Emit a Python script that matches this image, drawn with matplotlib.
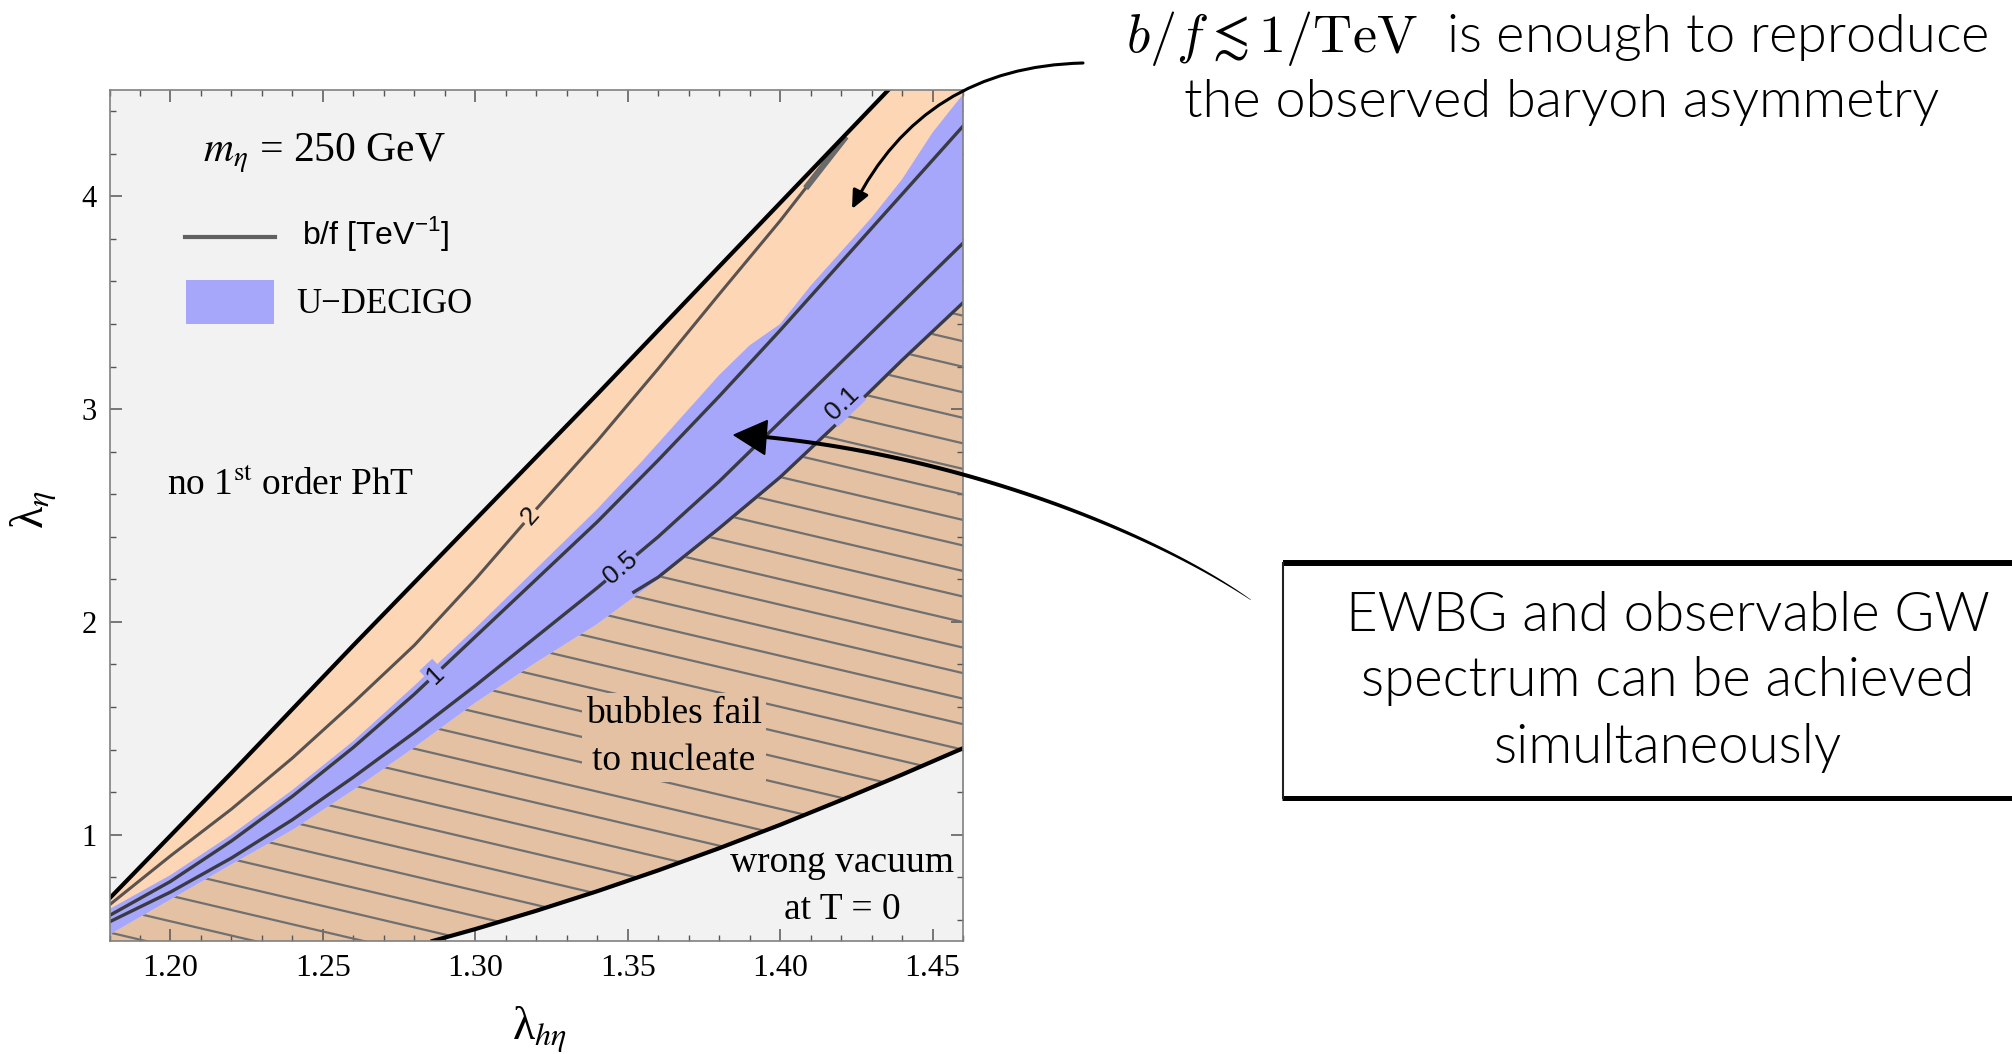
import numpy as np
import matplotlib
matplotlib.use("Agg")
import matplotlib.pyplot as plt
from matplotlib.patches import Polygon, Rectangle, FancyArrowPatch
from matplotlib.lines import Line2D
from matplotlib.collections import LineCollection
from matplotlib.ticker import MultipleLocator, FormatStrFormatter

W, H = 2012, 1054

# ---------------- data ----------------
xlim = (1.18, 1.46)
ylim = (0.5, 4.5)

# boundary of "no 1st order PhT"
phase_x = [1.18, 1.22, 1.26, 1.30, 1.34, 1.38, 1.4355]
phase_y = [0.70, 1.29, 1.89, 2.48, 3.07, 3.67, 4.50]

# boundary of "wrong vacuum at T=0"
vac_x = [1.286, 1.30, 1.32, 1.34, 1.36, 1.38, 1.40, 1.42, 1.44, 1.46]
vac_y = [0.50, 0.556, 0.642, 0.734, 0.832, 0.936, 1.046, 1.162, 1.282, 1.406]

# common x grid for the band curves
grid_x = [1.18, 1.20, 1.22, 1.24, 1.26, 1.28, 1.30, 1.32, 1.34, 1.36, 1.38, 1.40, 1.42, 1.44, 1.46]
# upper edge of "bubbles fail to nucleate" region (= lower edge of U-DECIGO band)
nucl_y = [0.53, 0.695, 0.86, 1.022, 1.21, 1.41, 1.62, 1.81, 1.99, 2.20, 2.43, 2.67, 2.94, 3.22, 3.49]
# b/f contours
bf1_y = [0.62, 0.78, 0.97, 1.18, 1.41, 1.66, 1.93, 2.20, 2.47, 2.76, 3.06, 3.37, 3.69, 4.01, 4.33]
bf05_y = [0.59, 0.73, 0.89, 1.07, 1.27, 1.48, 1.70, 1.93, 2.16, 2.40, 2.66, 2.94, 3.22, 3.50, 3.78]

bf2_x = [1.18, 1.20, 1.22, 1.24, 1.26, 1.28, 1.30, 1.32, 1.34, 1.36, 1.38, 1.40, 1.421]
bf2_y = [0.67, 0.90, 1.12, 1.36, 1.62, 1.89, 2.20, 2.53, 2.85, 3.19, 3.54, 3.885, 4.27]
bf2_thick_x = [1.409, 1.421]

bf01_x = [1.352, 1.36, 1.38, 1.40, 1.42, 1.44, 1.46]
bf01_y = [2.14, 2.21, 2.44, 2.68, 2.95, 3.23, 3.50]

# upper edge of U-DECIGO band
decigo_x = [1.18, 1.20, 1.22, 1.24, 1.26, 1.28, 1.30, 1.32, 1.34, 1.355, 1.37, 1.38,
            1.39, 1.40, 1.41, 1.42, 1.43, 1.44, 1.45, 1.46]
decigo_top = [0.65, 0.81, 1.00, 1.21, 1.44, 1.70, 1.97, 2.25, 2.53, 2.76, 3.00, 3.16,
              3.30, 3.40, 3.58, 3.74, 3.90, 4.08, 4.30, 4.48]

contour_labels = ["2", "1", "0.5", "0.1"]
contour_label_x = [1.318, 1.2868, 1.3478, 1.4205]
contour_label_dy = [0.0, 0.0, 0.0, 0.07]

xticks_major = 0.05
yticks_major = 1

# ---------------- style ----------------
BG = "#f2f2f2"
PEACH = "#fdd6b6"
TAN = "#e4c1a2"
BLUE = "#a6a6fb"
CONT = "#3a3a44"
HATCH = "#707070"
SERIF = "Liberation Serif"
SANS = "Liberation Sans"

plt.rcParams["font.family"] = [SERIF, "DejaVu Sans"]


def F(x, y):
    """reference-pixel -> figure fraction"""
    return (x / W, 1 - y / H)


fig = plt.figure(figsize=(W / 100, H / 100), dpi=100)
fig.patch.set_facecolor("white")
ax = fig.add_axes([109.5 / W, 1 - 941 / H, (963 - 109.5) / W, (941 - 90) / H])
ax.set_xlim(*xlim)
ax.set_ylim(*ylim)
ax.set_facecolor(BG)

gx = np.array(grid_x)
ny = np.array(nucl_y)

# peach region (first-order PhT, bubbles nucleate)
peach_v = list(zip(phase_x, phase_y)) + [(xlim[1], ylim[1])] + list(zip(gx[::-1], ny[::-1]))
ax.add_patch(Polygon(peach_v, closed=True, fc=PEACH, ec="none", zorder=1))

# hatched region (bubbles fail to nucleate)
hatch_v = list(zip(gx, ny)) + list(zip(vac_x[::-1], vac_y[::-1])) + [(xlim[0], ylim[0])]
hatch_patch = Polygon(hatch_v, closed=True, fc=TAN, ec="none", zorder=1)
ax.add_patch(hatch_patch)

# hatch lines
slope = -3.36
spacing = 0.12
segs = []
for c in np.arange(0.42, 4.6, spacing):
    segs.append([(xlim[0], c), (xlim[1], c + slope * (xlim[1] - xlim[0]))])
lc = LineCollection(segs, colors=HATCH, linewidths=1.6, zorder=2)
lc.set_clip_path(hatch_patch)
ax.add_collection(lc)

# U-DECIGO band
blue_v = list(zip(decigo_x, decigo_top)) + list(zip(gx[::-1], ny[::-1]))
ax.add_patch(Polygon(blue_v, closed=True, fc=BLUE, ec="none", zorder=3))

# b/f contours
ax.plot(bf2_x, bf2_y, color="#5a524e", lw=2.2, zorder=4, solid_capstyle="butt")
ax.plot(bf2_thick_x, np.interp(bf2_thick_x, bf2_x, bf2_y), color="#6a6a6a", lw=4.5, zorder=4)
ax.plot(gx, bf1_y, color=CONT, lw=2.4, zorder=4)
ax.plot(gx, bf05_y, color=CONT, lw=2.4, zorder=4)
ax.plot(bf01_x, bf01_y, color=CONT, lw=2.4, zorder=4)

# black boundaries
ax.plot(phase_x, phase_y, color="k", lw=3.0, zorder=5)
ax.plot(vac_x, vac_y, color="k", lw=3.0, zorder=5)

# contour labels
lines_for_labels = [(bf2_x, bf2_y, PEACH), (grid_x, bf1_y, BLUE), (grid_x, bf05_y, BLUE),
                    (bf01_x, bf01_y, BLUE)]
for lab, lx, dy, (xs, ys, bgc) in zip(contour_labels, contour_label_x, contour_label_dy,
                                      lines_for_labels):
    ly = np.interp(lx, xs, ys) + dy
    p1 = ax.transData.transform((lx - 0.004, np.interp(lx - 0.004, xs, ys)))
    p2 = ax.transData.transform((lx + 0.004, np.interp(lx + 0.004, xs, ys)))
    ang = np.degrees(np.arctan2(p2[1] - p1[1], p2[0] - p1[0]))
    ax.text(lx, ly, lab, rotation=ang, rotation_mode="anchor", ha="center", va="center",
            fontsize=19, family=SANS, color="#111111", zorder=6,
            bbox=dict(boxstyle="square,pad=0.06", fc=bgc, ec="none"))

# region texts
ax.text(1.3652, 1.457, "bubbles fail\nto nucleate", ha="center", va="center",
        fontsize=27, family=SERIF, linespacing=1.47, zorder=6,
        bbox=dict(boxstyle="square,pad=0.1", fc=TAN, ec="none"))
ax.text(1.4204, 0.825, "wrong vacuum", ha="center", va="baseline", fontsize=27,
        family=SERIF, zorder=6)
ax.text(1.4204, 0.602, "at T = 0", ha="center", va="baseline", fontsize=27,
        family=SERIF, zorder=6)

axx = lambda px: (px - 109.5) / (963 - 109.5)
axy = lambda py: (941 - py) / (941 - 90)
ax.text(axx(166.7), axy(495), r"no 1$^{\mathrm{st}}$ order PhT", transform=ax.transAxes,
        fontsize=27, family=SERIF, math_fontfamily="stix", va="baseline", zorder=6)

# legend (manual)
ax.text(axx(203), axy(161.7), r"$m_\eta$ = 250 GeV", transform=ax.transAxes, fontsize=30,
        family=SERIF, math_fontfamily="stix", va="baseline", zorder=6)
ax.add_line(Line2D([axx(185), axx(275)], [axy(237), axy(237)], transform=ax.transAxes,
                   color="#606060", lw=3.0, zorder=6))
ax.text(axx(301.7), axy(244), r"b/f [TeV$^{\mathdefault{-1}}$]", transform=ax.transAxes,
        fontsize=23, family=SANS, va="baseline", zorder=6)
ax.add_patch(Rectangle((axx(186), axy(324)), axx(274) - axx(186), axy(280) - axy(324),
                       transform=ax.transAxes, fc=BLUE, ec="none", zorder=6))
ax.text(axx(296), axy(313.3), "U\u2212DECIGO", transform=ax.transAxes, fontsize=25,
        family=SERIF, va="baseline", zorder=6)

# axes styling
ax.xaxis.set_major_locator(MultipleLocator(xticks_major))
ax.xaxis.set_minor_locator(MultipleLocator(0.01))
ax.xaxis.set_major_formatter(FormatStrFormatter("%.2f"))
ax.yaxis.set_major_locator(MultipleLocator(yticks_major))
ax.yaxis.set_minor_locator(MultipleLocator(0.2))
ax.yaxis.set_major_formatter(FormatStrFormatter("%d"))
ax.tick_params(which="both", direction="in", top=True, right=True, color="#555555")
ax.tick_params(which="major", length=8.5, width=1.1, pad=9)
ax.tick_params(which="minor", length=4.5, width=1.0)
ax.tick_params(axis="x", labelsize=23)
ax.tick_params(axis="y", labelsize=22)
for lab in ax.get_xticklabels() + ax.get_yticklabels():
    lab.set_family(SERIF)
for sp in ax.spines.values():
    sp.set_color("#808080")
    sp.set_linewidth(1.2)
    sp.set_zorder(10)

fig.text(*F(540, 1030), "\u03bb$_{h\\eta}$", ha="center", va="center", fontsize=33,
         family=SERIF, math_fontfamily="stix")
fig.text(*F(34, 509), "\u03bb$_{\\eta}$", ha="center", va="center", rotation=90,
         fontsize=33, family=SERIF, math_fontfamily="stix")

# ---------------- annotations outside ----------------
LIGHT = dict(family=["Lato", "DejaVu Sans"], weight=300, color="black")
renderer = fig.canvas.get_renderer()


def fit_width(t, target):
    w = t.get_window_extent(renderer).width
    t.set_fontsize(t.get_fontsize() * target / w)


t2 = fig.text(*F(1561.5, 103), "the observed baryon asymmetry", ha="center", va="center",
              fontsize=36, **LIGHT)
fit_width(t2, 757)
t1 = fig.text(*F(1557.5, 38), r"$b/f \lesssim 1/\mathrm{TeV}$  is enough to reproduce",
              ha="center", va="center", fontsize=t2.get_fontsize(), math_fontfamily="cm",
              **LIGHT)

b1 = fig.text(*F(1668, 616), "EWBG and observable GW", ha="center", va="center",
              fontsize=44, **LIGHT)
fit_width(b1, 644)
fs = b1.get_fontsize()
fig.text(*F(1668, 681), "spectrum can be achieved", ha="center", va="center", fontsize=fs,
         **LIGHT)
fig.text(*F(1668, 748), "simultaneously", ha="center", va="center", fontsize=fs, **LIGHT)

# box around the statement
fig.add_artist(Line2D([1283 / W, 1.0], [1 - 563 / H] * 2, transform=fig.transFigure,
                      color="k", lw=4.3, solid_capstyle="butt"))
fig.add_artist(Line2D([1282 / W, 1.0], [1 - 798 / H] * 2, transform=fig.transFigure,
                      color="k", lw=3.6, solid_capstyle="butt"))
fig.add_artist(Line2D([1283 / W] * 2, [1 - 563 / H, 1 - 798 / H], transform=fig.transFigure,
                      color="#222222", lw=1.5))

# thin curved arrow from the top statement
fig.add_artist(FancyArrowPatch(F(1083, 63), F(852, 209), transform=fig.transFigure,
                               connectionstyle="arc3,rad=0.3",
                               arrowstyle="-|>,head_length=0.55,head_width=0.25",
                               mutation_scale=20, lw=2.2, color="k",
                               shrinkA=0, shrinkB=0))

# brush-like tapered arrow from the box
P0 = np.array([765.0, 437.0])
P3 = np.array([1251.0, 600.0])
d0 = np.array([1.0, 0.1]); d0 /= np.linalg.norm(d0)
d3 = np.array([0.824, 0.567]); d3 /= np.linalg.norm(d3)
P1 = P0 + 200 * d0
P2 = P3 - 120 * d3
t = np.linspace(0, 1, 150)[:, None]
curve = (1 - t) ** 3 * P0 + 3 * (1 - t) ** 2 * t * P1 + 3 * (1 - t) * t ** 2 * P2 + t ** 3 * P3
tang = np.gradient(curve, axis=0)
tang /= np.linalg.norm(tang, axis=1)[:, None]
norm = np.column_stack([-tang[:, 1], tang[:, 0]])
tt = t[:, 0]
width = (1 - tt) ** 0.7 * (3.6 + 4.0 * tt) + 0.3
left = curve + norm * width[:, None] / 2
right = curve - norm * width[:, None] / 2
outline = np.vstack([left, right[::-1]])
fig.add_artist(Polygon([F(x, y) for x, y in outline], closed=True, transform=fig.transFigure,
                       fc="k", ec="none"))
tip = np.array([734.0, 435.0])
base = np.array([766.0, 437.5])
dirv = (tip - base) / np.linalg.norm(tip - base)
nv = np.array([-dirv[1], dirv[0]])
head = [tip, base + nv * 17, base - nv * 17]
fig.add_artist(Polygon([F(x, y) for x, y in head], closed=True, transform=fig.transFigure,
                       fc="k", ec="k", lw=1.0))

fig.savefig("out.png", dpi=100)
